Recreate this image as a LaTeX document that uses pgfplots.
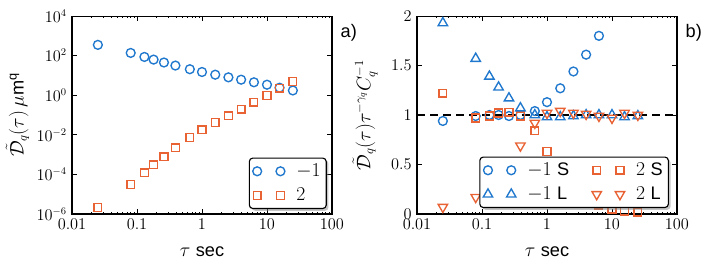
\documentclass[border=0pt]{standalone}
\usepackage{amsmath}
\usepackage{pgfplots}
\pgfplotsset{compat=1.18}
\usepackage{fontspec}
\setsansfont{Liberation Sans}
\usetikzlibrary{shadows}
\definecolor{cblue}{RGB}{31,120,205}
\definecolor{corange}{RGB}{232,98,52}
\pgfplotsset{
  twomarks/.style={only marks, legend image code/.code={\draw[##1] plot[only marks] coordinates {(0cm,0cm) (0.72cm,0cm)};}},
  mkopt/.style={mark options={solid, sharp corners, line width=1.2pt, fill=none, #1}},
}
\begin{document}
\fontsize{13.5}{16}\selectfont
\begin{tikzpicture}
\useasboundingbox (-63.36pt,-50.16pt) rectangle (558.8pt,188.32pt);
\begin{axis}[name=A, at={(0pt,0pt)}, anchor=south west,
    width=228.8pt, height=174.2pt, scale only axis,
    xmode=log, xmin=0.01, xmax=100,
    xtick={0.01,0.1,1,10,100},
    xticklabels={$0.01$,$0.1$,$1$,$10$,$100$},
    tick align=inside, major tick length=4pt, minor tick length=2pt,
    axis line style={line width=0.9pt},
    every tick/.append style={black, line width=0.6pt},
    xlabel={$\tau$ \textsf{sec}},
    label style={font=\fontsize{16}{19}\selectfont},
    xlabel style={at={(axis description cs:0.5,0)}, anchor=center, yshift=-33pt},
    legend cell align=left,
    legend style={draw=black, line width=1pt, rounded corners=3pt, fill=white,
      drop shadow={shadow xshift=2pt, shadow yshift=-2pt, fill=black!45},
      font=\fontsize{16}{19}\selectfont, row sep=4pt, inner sep=3pt,
      /tikz/every odd column/.append style={column sep=8pt}},
  ymode=log, ymin=1e-6, ymax=1e4, ytick={1e-6,1e-4,1e-2,1,1e2,1e4},
  ylabel={$\tilde{\mathcal{D}}_q(\tau)\,\mu$\textsf{m}$^{\text{\sffamily q}}$},
  ylabel style={at={(axis description cs:-0.21,0.5)}, anchor=center},
  legend style={at={(0.98,0.025)}, anchor=south east},
]
\addplot[twomarks, color=cblue, mark=o, mark size=3.9pt, mkopt] coordinates {
(0.025,350) (0.08,137) (0.13,86) (0.18,63) (0.26,45) (0.39,31.5) (0.65,20.6) (1,14.9)
(1.6,10.9) (2.55,8) (4,6.1) (6.3,4.5) (10,3.4) (15.6,2.4) (25,1.74)};
\addlegendentry{$-1$}
\addplot[twomarks, color=corange, mark=square, mark size=3.4pt, mkopt] coordinates {
(0.025,2.1e-6) (0.08,3.1e-5) (0.13,1.2e-4) (0.18,3.1e-4) (0.26,7.8e-4) (0.39,2.2e-3)
(0.65,7.2e-3) (1,0.018) (1.6,0.042) (2.55,0.091) (4,0.196) (6.3,0.45) (10,0.98) (15.6,2.3) (25,5.0)};
\addlegendentry{$2$}
\end{axis}
\node[anchor=west, font=\fontsize{16}{19}\selectfont\sffamily, xshift=3pt, yshift=-15pt] at (A.north east) {a)};
\begin{axis}[name=B, at={(303.6pt,0pt)}, anchor=south west,
    width=228.8pt, height=174.2pt, scale only axis,
    xmode=log, xmin=0.01, xmax=100,
    xtick={0.01,0.1,1,10,100},
    xticklabels={$0.01$,$0.1$,$1$,$10$,$100$},
    tick align=inside, major tick length=4pt, minor tick length=2pt,
    axis line style={line width=0.9pt},
    every tick/.append style={black, line width=0.6pt},
    xlabel={$\tau$ \textsf{sec}},
    label style={font=\fontsize{16}{19}\selectfont},
    xlabel style={at={(axis description cs:0.5,0)}, anchor=center, yshift=-33pt},
    legend cell align=left,
    legend style={draw=black, line width=1pt, rounded corners=3pt, fill=white,
      drop shadow={shadow xshift=2pt, shadow yshift=-2pt, fill=black!45},
      font=\fontsize{16}{19}\selectfont, row sep=4pt, inner sep=3pt,
      /tikz/every odd column/.append style={column sep=8pt}},
  ymin=0, ymax=2, ytick={0,0.5,1,1.5,2}, yticklabels={$0$,$0.5$,$1$,$1.5$,$2$},
  ylabel={$\tilde{\mathcal{D}}_q(\tau)\tau^{-\gamma_q}C_q^{-1}$},
  ylabel style={at={(axis description cs:-0.2,0.5)}, anchor=center},
  legend columns=2,
  legend style={at={(0.969,0.03)}, anchor=south east, /tikz/every even column/.append style={column sep=18pt}},
]
\addplot[forget plot, black, line width=2pt, dash pattern=on 7pt off 4.5pt] coordinates {(0.01,1) (100,1)};
\addplot[twomarks, color=cblue, mark=o, mark size=3.9pt, mkopt] coordinates {
(0.025,0.94) (0.08,0.99) (0.13,1.0) (0.18,1.0) (0.26,0.99) (0.39,1.0) (0.65,1.04) (1,1.13)
(1.6,1.27) (2.55,1.44) (4,1.61) (6.3,1.80)};
\addlegendentry{$-1$ \textsf{S}}
\addplot[twomarks, color=corange, mark=square, mark size=3.4pt, mkopt] coordinates {
(0.025,1.22) (0.08,0.97) (0.13,0.99) (0.18,1.02) (0.26,1.03) (0.39,0.99) (0.65,0.84) (1,0.63)
(1.6,0.42) (2.55,0.27) (4,0.16) (6.3,0.09) (10,0.05) (15.6,0.03) (25,0.02)};
\addlegendentry{$2$ \textsf{S}}
\addplot[twomarks, color=cblue, mark=triangle, mark size=4.8pt, mkopt] coordinates {
(0.025,1.93) (0.08,1.57) (0.13,1.39) (0.18,1.28) (0.26,1.17) (0.39,1.07) (0.65,1.0) (1,0.98)
(1.6,0.98) (2.55,0.99) (4,1.0) (6.3,1.0) (10,1.0) (15.6,0.98) (25,0.99)};
\addlegendentry{$-1$ \textsf{L}}
\addplot[twomarks, color=corange, mark=triangle, mark size=4.8pt, mkopt={rotate=180}] coordinates {
(0.025,0.07) (0.08,0.17) (0.13,0.30) (0.18,0.43) (0.26,0.53) (0.39,0.69) (0.65,0.92) (1,1.02)
(1.6,1.04) (2.55,1.02) (4,1.01) (6.3,0.99) (10,0.97) (15.6,1.02) (25,1.0)};
\addlegendentry{$2$ \textsf{L}}
\end{axis}
\node[anchor=west, font=\fontsize{16}{19}\selectfont\sffamily, xshift=3pt, yshift=-15pt] at (B.north east) {b)};
\end{tikzpicture}
\end{document}
